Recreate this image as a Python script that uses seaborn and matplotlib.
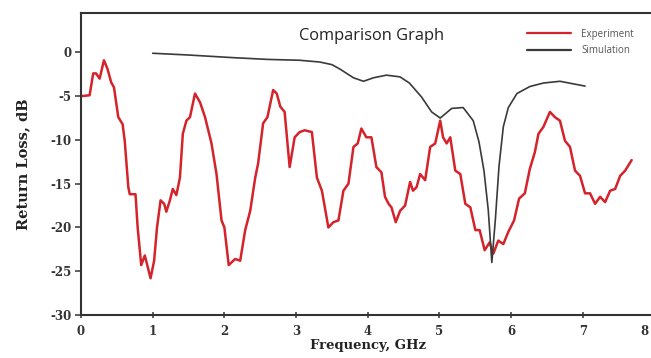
import numpy as np
import pandas as pd
import matplotlib
matplotlib.use("Agg")
import matplotlib.pyplot as plt
import matplotlib.transforms as mtransforms
import seaborn as sns

# ---- data ----
exp_freq = [0.00, 0.12, 0.17, 0.21, 0.26, 0.32, 0.37, 0.42, 0.46, 0.52, 0.58, 0.61, 0.66, 0.68, 0.76,
            0.79, 0.84, 0.89, 0.93, 0.97, 1.02, 1.06, 1.11, 1.16, 1.19, 1.24, 1.28, 1.33, 1.38, 1.42,
            1.47, 1.52, 1.59, 1.66, 1.73, 1.82, 1.89, 1.96, 2.00, 2.06, 2.15, 2.22, 2.29, 2.36, 2.43,
            2.47, 2.54, 2.60, 2.68, 2.73, 2.78, 2.84, 2.91, 2.98, 3.05, 3.12, 3.22, 3.29, 3.36, 3.45,
            3.52, 3.59, 3.66, 3.73, 3.80, 3.86, 3.91, 3.98, 4.05, 4.12, 4.19, 4.24, 4.29, 4.33, 4.39,
            4.45, 4.52, 4.59, 4.63, 4.68, 4.73, 4.80, 4.87, 4.94, 5.01, 5.05, 5.10, 5.15, 5.22, 5.29,
            5.36, 5.43, 5.50, 5.56, 5.63, 5.70, 5.75, 5.82, 5.89, 5.96, 6.04, 6.11, 6.19, 6.26, 6.33,
            6.38, 6.45, 6.54, 6.61, 6.68, 6.75, 6.82, 6.89, 6.96, 7.03, 7.10, 7.17, 7.24, 7.31, 7.38,
            7.45, 7.52, 7.59, 7.68]
exp_rl = [-5.0, -4.9, -2.4, -2.4, -3.0, -0.9, -1.9, -3.4, -4.0, -7.4, -8.2, -10.1, -15.4, -16.2, -16.2,
          -20.0, -24.3, -23.2, -24.5, -25.8, -23.8, -20.0, -16.9, -17.3, -18.2, -16.9, -15.6, -16.3, -14.3, -9.3,
          -7.8, -7.4, -4.7, -5.7, -7.4, -10.4, -13.9, -19.2, -20.0, -24.3, -23.6, -23.8, -20.3, -18.1, -14.3,
          -12.7, -8.1, -7.4, -4.3, -4.7, -6.2, -6.8, -13.1, -9.7, -9.1, -8.9, -9.1, -14.3, -15.8, -20.0,
          -19.4, -19.2, -15.8, -15.0, -10.8, -10.4, -8.7, -9.7, -9.7, -13.1, -13.7, -16.5, -17.3, -17.7, -19.4,
          -18.1, -17.5, -14.8, -15.8, -15.4, -13.9, -14.6, -10.8, -10.4, -7.8, -9.7, -10.4, -9.7, -13.5, -13.9,
          -17.3, -17.7, -20.3, -20.3, -22.6, -21.7, -23.0, -21.5, -21.9, -20.5, -19.2, -16.7, -16.1, -13.3, -11.4,
          -9.3, -8.5, -6.8, -7.4, -7.8, -10.1, -10.8, -13.5, -14.1, -16.1, -16.1, -17.3, -16.5, -17.1, -15.8,
          -15.6, -14.1, -13.5, -12.3]

sim_freq = [1.00, 1.50, 2.12, 2.60, 3.05, 3.33, 3.50, 3.61, 3.80, 3.94, 4.08, 4.26, 4.45, 4.58, 4.75,
            4.89, 5.01, 5.17, 5.33, 5.47, 5.55, 5.62, 5.68, 5.73, 5.78, 5.83, 5.89, 5.96, 6.08, 6.26,
            6.45, 6.68, 6.87, 7.03]
sim_rl = [-0.1, -0.3, -0.6, -0.8, -0.9, -1.1, -1.4, -1.9, -2.9, -3.3, -2.9, -2.6, -2.8, -3.5, -5.1,
          -6.8, -7.5, -6.4, -6.3, -7.8, -10.2, -13.5, -18.0, -24.0, -19.0, -13.0, -8.5, -6.3, -4.7, -3.9,
          -3.5, -3.3, -3.6, -3.85]

series_names = ["Experiment", "Simulation"]
x_ticks = [0, 1, 2, 3, 4, 5, 6, 7, 8]
y_ticks = [0, -5, -10, -15, -20, -25, -30]

df = pd.concat([
    pd.DataFrame({"Frequency": exp_freq, "RL": exp_rl, "Series": series_names[0]}),
    pd.DataFrame({"Frequency": sim_freq, "RL": sim_rl, "Series": series_names[1]}),
], ignore_index=True)

sns.set_style("white")
plt.rcParams["font.family"] = ["DejaVu Sans"]

fig = plt.figure(figsize=(6.51, 3.58), dpi=100)
ax = fig.add_axes([81 / 651, 43 / 358, 573.6 / 651, 302 / 358])

sns.lineplot(data=df, x="Frequency", y="RL", hue="Series", hue_order=series_names,
             palette={"Experiment": "#d4232b", "Simulation": "#3a3a3a"},
             sort=False, estimator=None, ax=ax, linewidth=1.6, legend=True)
for line, lw in zip(ax.lines, [1.8, 1.2]):
    line.set_linewidth(lw)

ax.set_xlim(0, 8)
ax.set_ylim(-30, 4.5)
ax.set_xticks(x_ticks)
ax.set_yticks(y_ticks)
ax.set_xticklabels([str(v) for v in x_ticks], fontfamily="DejaVu Serif", fontweight="bold", fontsize=8.5, color="#333333")
ax.set_yticklabels([str(v) for v in y_ticks], fontfamily="DejaVu Serif", fontweight="bold", fontsize=8.5, color="#333333")
ax.tick_params(axis="y", direction="out", length=4, width=1.2, color="#444444", pad=3, left=True)
ax.tick_params(axis="x", direction="inout", length=4, width=1.2, color="#444444", pad=5, bottom=True)

# keep the last tick label ("8") inside the canvas
last = ax.get_xticklabels()[-1]
last.set_transform(last.get_transform() + mtransforms.ScaledTranslation(-10 / 100, 0, fig.dpi_scale_trans))

for s in ["left", "bottom", "top"]:
    ax.spines[s].set_color("#333333")
    ax.spines[s].set_linewidth(1.5)
ax.spines["right"].set_visible(False)

ax.set_xlabel("Frequency, GHz", fontfamily="DejaVu Serif", fontweight="bold", fontsize=9.5, color="#222222", labelpad=1)
ax.set_ylabel("Return Loss, dB", fontfamily="DejaVu Serif", fontweight="bold", fontsize=10.5, color="#222222", labelpad=14)

ax.text(0.507, 0.925, "Comparison Graph", transform=ax.transAxes, ha="center", va="center",
        fontfamily="Open Sans", fontsize=11.8, color="#222222")

handles, labels = ax.get_legend_handles_labels()
leg = ax.legend(handles, labels, loc="upper left", bbox_to_anchor=(0.777, 0.948), frameon=False,
                prop={"family": "Open Sans", "size": 7}, handlelength=4.6, handletextpad=1.0,
                labelspacing=0.55, borderpad=0, borderaxespad=0)
for t in leg.get_texts():
    t.set_color("#555555")
for h in leg.get_lines():
    h.set_linewidth(1.6)

fig.savefig("out.png", dpi=100)
